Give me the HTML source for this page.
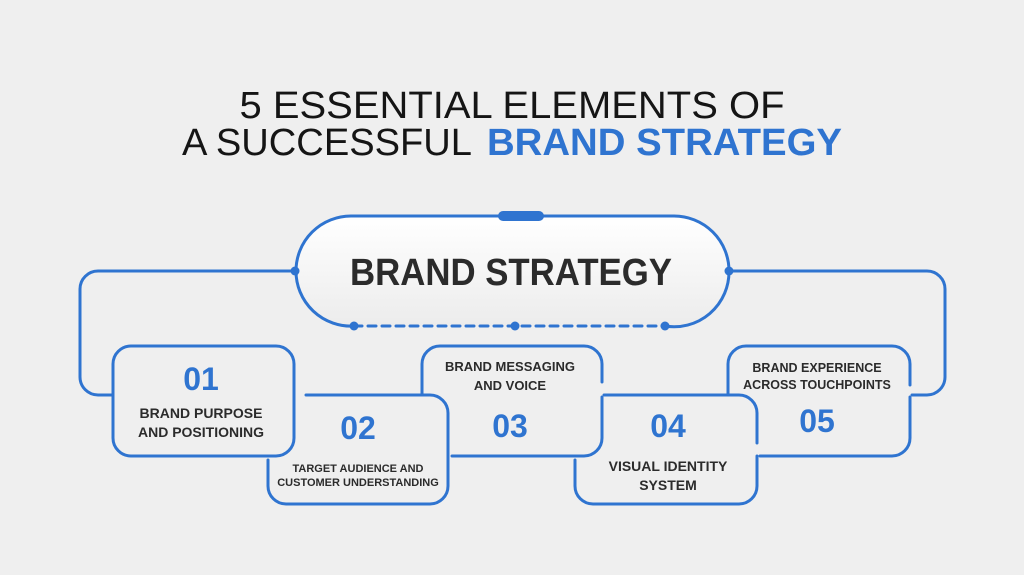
<!DOCTYPE html>
<html><head><meta charset="utf-8"><style>
html,body{margin:0;padding:0;background:#efefef;}
svg{display:block;}
text{font-family:"Liberation Sans",sans-serif;}
</style></head><body>
<svg width="1024" height="575" viewBox="0 0 1024 575" xmlns="http://www.w3.org/2000/svg">
<defs>
<linearGradient id="pg" x1="0" y1="0" x2="0" y2="1">
<stop offset="0" stop-color="#ffffff"/><stop offset="1" stop-color="#ececec"/>
</linearGradient>
</defs>
<rect width="1024" height="575" fill="#efefef"/>
<text x="512" y="118" text-anchor="middle" font-size="38" fill="#151515" textLength="545" lengthAdjust="spacingAndGlyphs">5 ESSENTIAL ELEMENTS OF</text>
<text x="182" y="155" font-size="38" fill="#151515" textLength="290" lengthAdjust="spacingAndGlyphs">A SUCCESSFUL</text>
<text x="487" y="155" font-size="38" font-weight="bold" fill="#2f74d0" textLength="355" lengthAdjust="spacingAndGlyphs">BRAND STRATEGY</text>

<g fill="none" stroke="#2f74d0" stroke-width="3" stroke-linecap="round">
<rect x="296" y="216" width="433" height="110" rx="55" fill="url(#pg)" stroke="none"/>
<path d="M354 326 A55 55 0 0 1 296 271 A55 55 0 0 1 351 216 H674 A55 55 0 0 1 729 271 A55 55 0 0 1 665 326"/>
<path d="M354 326 H665" stroke-dasharray="8 6"/>
<path d="M295 271 H98 A18 18 0 0 0 80 289 V377 A18 18 0 0 0 98 395 H113"/>
<path d="M729 271 H927 A18 18 0 0 1 945 289 V377 A18 18 0 0 1 927 395 H912"/>
<rect x="113" y="346" width="181" height="110" rx="18"/>
<path d="M306 395 H430 A18 18 0 0 1 448 413 V486 A18 18 0 0 1 430 504 H286 A18 18 0 0 1 268 486 V460"/>
<path d="M422 395 V364 A18 18 0 0 1 440 346 H584 A18 18 0 0 1 602 364 V382"/>
<path d="M602 397 V438 A18 18 0 0 1 584 456 H452"/>
<path d="M604 395 H739 A18 18 0 0 1 757 413 V443"/>
<path d="M575 460 V486 A18 18 0 0 0 593 504 H739 A18 18 0 0 0 757 486 V456"/>
<path d="M728 395 V364 A18 18 0 0 1 746 346 H892 A18 18 0 0 1 910 364 V385"/>
<path d="M910 397 V438 A18 18 0 0 1 892 456 H760"/>
</g>
<rect x="498" y="211" width="46" height="10" rx="5" fill="#2f74d0"/>
<g fill="#2f74d0">
<circle cx="295" cy="271" r="4.5"/><circle cx="729" cy="271" r="4.5"/>
<circle cx="354" cy="326" r="4.5"/><circle cx="515" cy="326" r="4.5"/><circle cx="665" cy="326" r="4.5"/>
</g>
<text x="511" y="285" text-anchor="middle" font-size="38" font-weight="bold" fill="#2b2b2b" textLength="322" lengthAdjust="spacingAndGlyphs">BRAND STRATEGY</text>

<g font-weight="bold" fill="#2f74d0" font-size="32" text-anchor="middle">
<text x="201" y="390">01</text>
<text x="358" y="439">02</text>
<text x="510" y="437">03</text>
<text x="668" y="437">04</text>
<text x="817" y="432">05</text>
</g>
<g font-weight="bold" fill="#2b2b2b" text-anchor="middle">
<text x="201" y="418" font-size="14">BRAND PURPOSE</text>
<text x="201" y="437" font-size="14">AND POSITIONING</text>
<text x="358" y="472" font-size="11">TARGET AUDIENCE AND</text>
<text x="358" y="486" font-size="11">CUSTOMER UNDERSTANDING</text>
<text x="510" y="371" font-size="13">BRAND MESSAGING</text>
<text x="510" y="390" font-size="13">AND VOICE</text>
<text x="668" y="471" font-size="14">VISUAL IDENTITY</text>
<text x="668" y="490" font-size="14">SYSTEM</text>
<text x="817" y="372" font-size="12.5">BRAND EXPERIENCE</text>
<text x="817" y="389" font-size="12.5">ACROSS TOUCHPOINTS</text>
</g>
</svg>
</body></html>
